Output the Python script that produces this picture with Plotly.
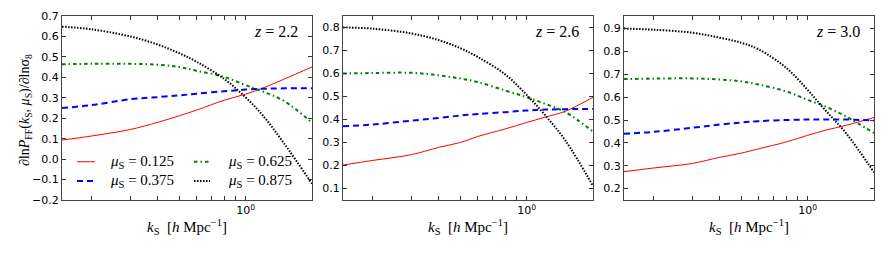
import plotly.graph_objects as go
import numpy as np

# The page body has a default 8px margin, so the figure is drawn 8px smaller
# and all reference pixel positions are shifted by that offset.
OFF = 8
W, H = 885 - OFF, 253 - OFF

# ---- data ----
k = [0.147, 0.2, 0.3, 0.4, 0.5, 0.6, 0.8, 1.0, 1.2, 1.5, 2.0]
mu_labels = ["0.125", "0.375", "0.625", "0.875"]
z_labels = ["2.2", "2.6", "3.0"]

z22_mu0125 = [0.093, 0.113, 0.145, 0.180, 0.212, 0.240, 0.288, 0.318, 0.348, 0.392, 0.451]
z22_mu0375 = [0.250, 0.264, 0.293, 0.303, 0.312, 0.320, 0.332, 0.340, 0.344, 0.346, 0.347]
z22_mu0625 = [0.464, 0.466, 0.466, 0.462, 0.450, 0.432, 0.402, 0.362, 0.330, 0.283, 0.178]
z22_mu0875 = [0.648, 0.635, 0.600, 0.560, 0.518, 0.476, 0.392, 0.302, 0.212, 0.074, -0.120]

z26_mu0125 = [0.202, 0.222, 0.247, 0.279, 0.300, 0.326, 0.359, 0.387, 0.409, 0.436, 0.497]
z26_mu0375 = [0.371, 0.378, 0.395, 0.407, 0.417, 0.424, 0.432, 0.439, 0.443, 0.445, 0.446]
z26_mu0625 = [0.600, 0.602, 0.603, 0.592, 0.578, 0.563, 0.526, 0.497, 0.470, 0.432, 0.347]
z26_mu0875 = [0.800, 0.795, 0.774, 0.745, 0.710, 0.672, 0.596, 0.507, 0.424, 0.308, 0.111]

z30_mu0125 = [0.274, 0.290, 0.310, 0.337, 0.355, 0.374, 0.404, 0.433, 0.455, 0.477, 0.511]
z30_mu0375 = [0.440, 0.448, 0.466, 0.480, 0.489, 0.495, 0.500, 0.502, 0.502, 0.502, 0.498]
z30_mu0625 = [0.679, 0.681, 0.682, 0.677, 0.669, 0.655, 0.625, 0.588, 0.560, 0.514, 0.443]
z30_mu0875 = [0.900, 0.895, 0.882, 0.860, 0.838, 0.809, 0.728, 0.632, 0.544, 0.440, 0.271]

panels = [
    [z22_mu0125, z22_mu0375, z22_mu0625, z22_mu0875],
    [z26_mu0125, z26_mu0375, z26_mu0625, z26_mu0875],
    [z30_mu0125, z30_mu0375, z30_mu0625, z30_mu0875],
]
y_ranges = [[-0.2, 0.7], [0.05, 0.85], [0.15, 0.955]]
y_ticks = [
    [-0.2, -0.1, 0.0, 0.1, 0.2, 0.3, 0.4, 0.5, 0.6, 0.7],
    [0.1, 0.2, 0.3, 0.4, 0.5, 0.6, 0.7, 0.8],
    [0.2, 0.3, 0.4, 0.5, 0.6, 0.7, 0.8, 0.9],
]
x_tickvals = [0.2, 0.3, 0.4, 0.5, 0.6, 0.7, 0.8, 0.9, 1.0, 2.0]

styles = [
    dict(color="#ff0000", width=1.0, dash="solid"),
    dict(color="#0000ff", width=2.0, dash="6px,4px"),
    dict(color="#008000", width=2.0, dash="3.5px,3px,1.5px,3px"),
    dict(color="#000000", width=2.0, dash="1.5px,1.5px"),
]

# ---- layout geometry (reference pixels) ----
x_px = [(62, 312), (343, 593), (624, 874)]
top_px, bot_px = 16, 200
pw, ph = 250.0, float(bot_px - top_px)

SERIF = "Liberation Serif"
SANS = "DejaVu Sans"

fig = go.Figure()
for p, series in enumerate(panels):
    ax = "" if p == 0 else str(p + 1)
    for s, vals in enumerate(series):
        fig.add_trace(go.Scatter(
            x=k, y=vals, mode="lines", line=dict(**styles[s], shape="spline"),
            name=f"μS = {mu_labels[s]}", showlegend=False,
            xaxis="x" + ax, yaxis="y" + ax,
        ))

layout = dict(
    width=W, height=H,
    margin=dict(l=0, r=0, t=top_px - OFF, b=(253 - bot_px), autoexpand=False),
    paper_bgcolor="white", plot_bgcolor="white",
    showlegend=False,
)

annotations = []
shapes = []
for p in range(3):
    ax = "" if p == 0 else str(p + 1)
    x0, x1 = x_px[p]
    xa = dict(
        type="log", domain=[(x0 - OFF) / W, (x1 - OFF) / W],
        range=[np.log10(0.147), np.log10(2.0)],
        tickvals=x_tickvals, automargin=False,
        ticktext=["" if v != 1.0 else "10<sup>0</sup>" for v in x_tickvals],
        ticks="inside", ticklen=4, tickwidth=1, tickcolor="#333",
        showline=True, linecolor="#444", linewidth=1.3, mirror="ticks",
        showgrid=False, zeroline=False,
        tickfont=dict(family=SANS, size=11, color="black"),
        anchor="y" + ax,
    )
    ya = dict(
        range=y_ranges[p], tickvals=y_ticks[p], automargin=False,
        ticktext=[f"{v:.1f}".replace("-", "−") for v in y_ticks[p]],
        ticks="inside", ticklen=4, tickwidth=1, tickcolor="#333",
        showline=True, linecolor="#444", linewidth=1.3, mirror="ticks",
        showgrid=False, zeroline=False,
        tickfont=dict(family=SANS, size=11, color="black"),
        anchor="x" + ax,
    )
    layout["xaxis" + ax] = xa
    layout["yaxis" + ax] = ya
    # panel label
    annotations.append(dict(
        xref="x" + ax + " domain", yref="y" + ax + " domain",
        x=0.952, y=1 - (32 - top_px) / ph, xanchor="right", yanchor="middle",
        showarrow=False, text=f"<i>z</i> = {z_labels[p]}",
        font=dict(family=SERIF, size=16, color="black"),
    ))
    # x-axis title
    annotations.append(dict(
        xref="x" + ax + " domain", yref="y" + ax + " domain",
        x=0.5, y=-(227 - bot_px) / ph, xanchor="center", yanchor="middle",
        showarrow=False,
        text="<i>k</i><sub>S</sub>  [<i>h</i> Mpc<sup>−1</sup>]",
        font=dict(family=SERIF, size=15, color="black"),
    ))

# y-axis title on first panel
annotations.append(dict(
    xref="x domain", yref="y domain",
    x=(25 - 62) / pw, y=1 - (110 - top_px) / ph, xanchor="center", yanchor="middle",
    textangle=-90, showarrow=False,
    text="∂ln<i>P</i><sub>FF</sub>(<i>k</i><sub>S</sub>, <i>μ</i><sub>S</sub>)/∂lnσ<sub>8</sub>",
    font=dict(family=SERIF, size=14, color="black"),
))

# manual two-column legend inside first panel (matplotlib-style short samples)
leg_pos = [  # (sample x0, sample x1, text x, y) in panel-1 domain units
    (0.060, 0.132, 0.184, 0.208),
    (0.060, 0.132, 0.184, 0.103),
    (0.528, 0.592, 0.656, 0.208),
    (0.528, 0.592, 0.656, 0.103),
]
for s, (sx0, sx1, tx, ty) in enumerate(leg_pos):
    shapes.append(dict(
        type="line", xref="x domain", yref="y domain",
        x0=sx0, x1=sx1, y0=ty, y1=ty,
        line=dict(color=styles[s]["color"], width=styles[s]["width"], dash=styles[s]["dash"]),
    ))
    annotations.append(dict(
        xref="x domain", yref="y domain", x=tx, y=ty,
        xanchor="left", yanchor="middle", showarrow=False,
        text=f"<i>μ</i><sub>S</sub> = {mu_labels[s]}",
        font=dict(family=SERIF, size=15, color="black"),
    ))

layout["annotations"] = annotations
layout["shapes"] = shapes
fig.update_layout(**layout)

fig.write_html("out.html")
